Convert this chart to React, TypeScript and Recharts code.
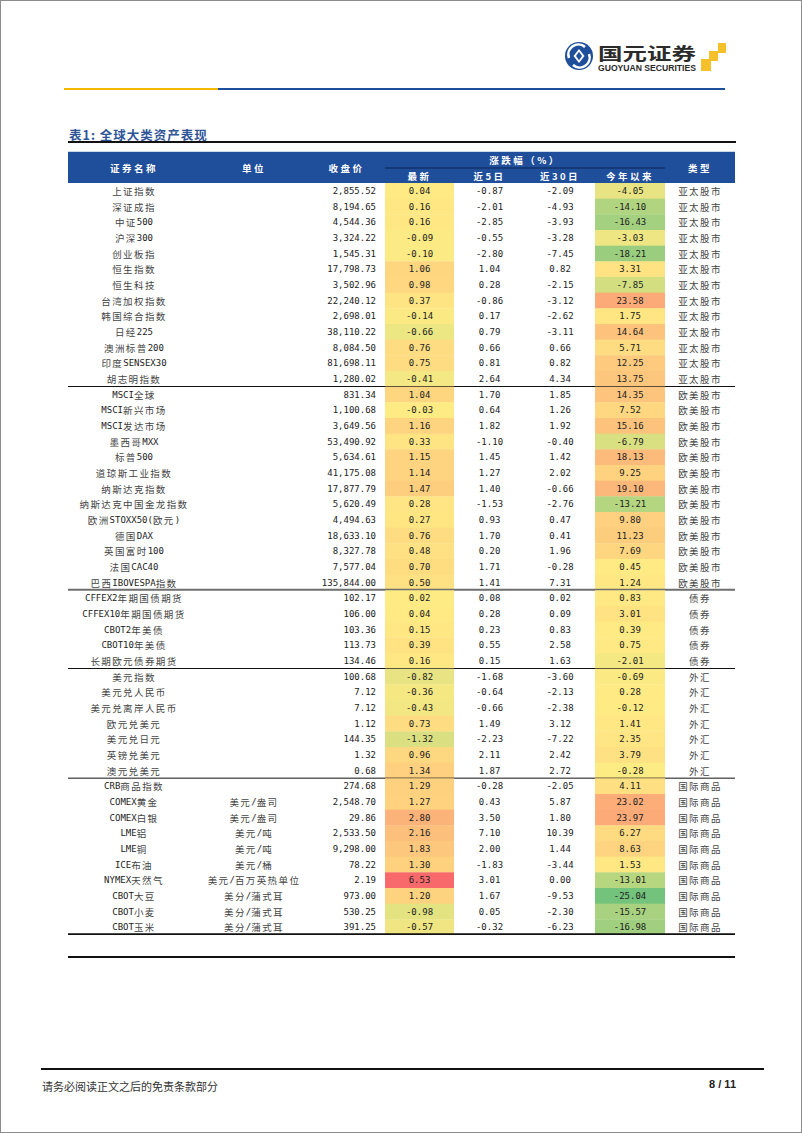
import { Bar, BarChart, XAxis, YAxis } from "recharts";

// 证券名称
const names = [
  "上证指数", "深证成指", "中证500", "沪深300", "创业板指", "恒生指数", "恒生科技", "台湾加权指数", "韩国综合指数", "日经225", "澳洲标普200", "印度SENSEX30", "胡志明指数",
  "MSCI全球", "MSCI新兴市场", "MSCI发达市场", "墨西哥MXX", "标普500", "道琼斯工业指数", "纳斯达克指数", "纳斯达克中国金龙指数", "欧洲STOXX50(欧元)", "德国DAX", "英国富时100", "法国CAC40", "巴西IBOVESPA指数",
  "CFFEX2年期国债期货", "CFFEX10年期国债期货", "CBOT2年美债", "CBOT10年美债", "长期欧元债券期货",
  "美元指数", "美元兑人民币", "美元兑离岸人民币", "欧元兑美元", "美元兑日元", "英镑兑美元", "澳元兑美元",
  "CRB商品指数", "COMEX黄金", "COMEX白银", "LME铝", "LME铜", "ICE布油", "NYMEX天然气", "CBOT大豆", "CBOT小麦", "CBOT玉米",
];

// 单位
const units = [
  "", "", "", "", "", "", "", "", "", "", "", "", "",
  "", "", "", "", "", "", "", "", "", "", "", "", "",
  "", "", "", "", "",
  "", "", "", "", "", "", "",
  "", "美元/盎司", "美元/盎司", "美元/吨", "美元/吨", "美元/桶", "美元/百万英热单位", "美分/蒲式耳", "美分/蒲式耳", "美分/蒲式耳",
];

// 收盘价
const closes = [
  2855.52, 8194.65, 4544.36, 3324.22, 1545.31, 17798.73, 3502.96, 22240.12, 2698.01, 38110.22, 8084.5, 81698.11, 1280.02,
  831.34, 1100.68, 3649.56, 53490.92, 5634.61, 41175.08, 17877.79, 5620.49, 4494.63, 18633.1, 8327.78, 7577.04, 135844.0,
  102.17, 106.0, 103.36, 113.73, 134.46,
  100.68, 7.12, 7.12, 1.12, 144.35, 1.32, 0.68,
  274.68, 2548.7, 29.86, 2533.5, 9298.0, 78.22, 2.19, 973.0, 530.25, 391.25,
];

// 涨跌幅(%): 最新 / 近5日 / 近30日 / 今年以来
const latest = [
  0.04, 0.16, 0.16, -0.09, -0.1, 1.06, 0.98, 0.37, -0.14, -0.66, 0.76, 0.75, -0.41,
  1.04, -0.03, 1.16, 0.33, 1.15, 1.14, 1.47, 0.28, 0.27, 0.76, 0.48, 0.7, 0.5,
  0.02, 0.04, 0.15, 0.39, 0.16,
  -0.82, -0.36, -0.43, 0.73, -1.32, 0.96, 1.34,
  1.29, 1.27, 2.8, 2.16, 1.83, 1.3, 6.53, 1.2, -0.98, -0.57,
];
const chg5d = [
  -0.87, -2.01, -2.85, -0.55, -2.8, 1.04, 0.28, -0.86, 0.17, 0.79, 0.66, 0.81, 2.64,
  1.7, 0.64, 1.82, -1.1, 1.45, 1.27, 1.4, -1.53, 0.93, 1.7, 0.2, 1.71, 1.41,
  0.08, 0.28, 0.23, 0.55, 0.15,
  -1.68, -0.64, -0.66, 1.49, -2.23, 2.11, 1.87,
  -0.28, 0.43, 3.5, 7.1, 2.0, -1.83, 3.01, 1.67, 0.05, -0.32,
];
const chg30d = [
  -2.09, -4.93, -3.93, -3.28, -7.45, 0.82, -2.15, -3.12, -2.62, -3.11, 0.66, 0.82, 4.34,
  1.85, 1.26, 1.92, -0.4, 1.42, 2.02, -0.66, -2.76, 0.47, 0.41, 1.96, -0.28, 7.31,
  0.02, 0.09, 0.83, 2.58, 1.63,
  -3.6, -2.13, -2.38, 3.12, -7.22, 2.42, 2.72,
  -2.05, 5.87, 1.8, 10.39, 1.44, -3.44, 0.0, -9.53, -2.3, -6.23,
];
const ytd = [
  -4.05, -14.1, -16.43, -3.03, -18.21, 3.31, -7.85, 23.58, 1.75, 14.64, 5.71, 12.25, 13.75,
  14.35, 7.52, 15.16, -6.79, 18.13, 9.25, 19.1, -13.21, 9.8, 11.23, 7.69, 0.45, 1.24,
  0.83, 3.01, 0.39, 0.75, -2.01,
  -0.69, 0.28, -0.12, 1.41, 2.35, 3.79, -0.28,
  4.11, 23.02, 23.97, 6.27, 8.63, 1.53, -13.01, -25.04, -15.57, -16.98,
];

// 类型
const groupTypes = ["亚太股市", "欧美股市", "债券", "外汇", "国际商品"];
const groupSizes = [13, 13, 5, 7, 10];

const topHeaders = ["证券名称", "单位", "收盘价", "涨跌幅（%）", "类型"];
const subHeaders = ["最新", "近5日", "近30日", "今年以来"];

const types = groupTypes.flatMap((t, i) => Array(groupSizes[i]).fill(t));
const groupEnds = groupSizes.map((_, i) => groupSizes.slice(0, i + 1).reduce((a, b) => a + b, 0) - 1);

const rows = names.map((name, i) => ({
  idx: i,
  name,
  unit: units[i],
  close: closes[i],
  latest: latest[i],
  d5: chg5d[i],
  d30: chg30d[i],
  ytd: ytd[i],
  type: types[i],
}));

// layout
const TABLE_X = 67;
const HEAD_Y = 150;
const HEAD_H = 32;
const BODY_Y = 182;
const BODY_H = 752;
const COL_W = [132, 108, 77, 69, 71, 70, 70, 70];
const TABLE_W = COL_W.reduce((a, b) => a + b, 0);
const colX = COL_W.reduce<number[]>((acc, w, i) => [...acc, acc[i] + w], [0]);

const BLUE = "#1F4E9A";
const NUM_FONT = "'DejaVu Sans Mono', 'Noto Sans CJK SC', monospace";
const CJK_FONT = "'Noto Sans CJK SC', sans-serif";

// excel-like 3 colour scale: green - yellow - red
const YELLOW = [255, 235, 132];
const GREEN = [99, 190, 123];
const RED = [248, 105, 107];
function heat(v: number, lo: number, hi: number) {
  const t = v >= 0 ? Math.min(v / hi, 1) : Math.min(v / lo, 1);
  const end = v >= 0 ? RED : GREEN;
  const c = YELLOW.map((y, k) => Math.round(y + (end[k] - y) * t));
  return `rgb(${c.join(",")})`;
}

type Col = { key: string; kind: "text" | "close" | "pct"; heat?: [number, number] };
const COLS: Col[] = [
  { key: "name", kind: "text" },
  { key: "unit", kind: "text" },
  { key: "close", kind: "close" },
  { key: "latest", kind: "pct", heat: [-5.5, 6.53] },
  { key: "d5", kind: "pct" },
  { key: "d30", kind: "pct" },
  { key: "ytd", kind: "pct", heat: [-28, 48] },
  { key: "type", kind: "text" },
];

const fmtClose = (v: number) =>
  v.toLocaleString("en-US", { minimumFractionDigits: 2, maximumFractionDigits: 2 });

const runs = (s: string) => s.match(/[\x00-\x7f]+|[^\x00-\x7f]+/g) || [];

const makeShape = (ci: number) => (p: any) => {
  const { x, y, width, height, payload } = p;
  const col = COLS[ci];
  const raw = payload[col.key];
  const cy = y + height / 2;
  const end = groupEnds.indexOf(payload.idx);
  const isLast = end === groupEnds.length - 1;
  const thick = isLast || end === 1 ? 2 : 1;
  const lineColor = end === 1 ? "#6e6e6e" : "#111";

  let content;
  if (col.kind === "pct") {
    content = (
      <text x={x + width / 2} y={cy} textAnchor="middle" dominantBaseline="central" fontFamily={NUM_FONT} fontSize={9} fill="#222">
        {raw.toFixed(2)}
      </text>
    );
  } else if (col.kind === "close") {
    content = (
      <text x={x + width - 9} y={cy} textAnchor="end" dominantBaseline="central" fontFamily={NUM_FONT} fontSize={9} fill="#222">
        {fmtClose(raw)}
      </text>
    );
  } else {
    content = (
      <text x={x + width / 2} y={cy} textAnchor="middle" dominantBaseline="central" fill="#444">
        {runs(raw).map((r, k) =>
          /^[\x00-\x7f]+$/.test(r) ? (
            <tspan key={k} fontFamily={NUM_FONT} fontSize={9} fill="#222">{r}</tspan>
          ) : (
            <tspan key={k} fontFamily={CJK_FONT} fontSize={9.5} letterSpacing={1.4}>{r}</tspan>
          )
        )}
      </text>
    );
  }

  return (
    <g>
      {col.heat && <rect x={x} y={y} width={width} height={height} fill={heat(raw, col.heat[0], col.heat[1])} />}
      {content}
      {end >= 0 && (
        <line x1={x} x2={x + width} y1={y + height - thick / 2} y2={y + height - thick / 2} stroke={lineColor} strokeWidth={thick} />
      )}
    </g>
  );
};

function Logo() {
  return (
    <svg width={170} height={36} style={{ position: "absolute", left: 561, top: 38 }}>
      <circle cx={17} cy={17} r={14} fill={BLUE} />
      <path d="M7 19 A10 10 0 0 1 23 8" stroke="#fff" strokeWidth={2.6} fill="none" />
      <path d="M27 15 A10 10 0 0 1 11 26" stroke="#fff" strokeWidth={2.6} fill="none" />
      <path d="M17 10 L22.5 17 L17 24 L11.5 17Z" fill="#fff" />
      <path d="M17 12.8 L20 17 L17 21.2 L14 17Z" fill={BLUE} />
      <text x={36} y={21} fontFamily={CJK_FONT} fontWeight={700} fontSize={17} fill="#2b2b2b" textLength={98} lengthAdjust="spacingAndGlyphs">
        国元证券
      </text>
      <text x={36} y={32} fontFamily="'Liberation Sans', Arial, sans-serif" fontWeight={700} fontSize={8.5} fill="#2b2b2b" textLength={98} lengthAdjust="spacingAndGlyphs">
        GUOYUAN SECURITIES
      </text>
      <rect x={156} y={4} width={8} height={10} fill="#F6C02B" />
      <rect x={147} y={12} width={9} height={10} fill="#F6C02B" />
      <rect x={139} y={20} width={10} height={12} fill="#F6C02B" />
    </svg>
  );
}

function Header() {
  const mid = (i: number) => (colX[i] + colX[i + 1]) / 2;
  const hStyle = { fontFamily: CJK_FONT, fontSize: 9.5, fontWeight: 700, fill: "#fff", letterSpacing: 2.5 } as const;
  return (
    <svg width={TABLE_W} height={HEAD_H} style={{ position: "absolute", left: TABLE_X, top: HEAD_Y }}>
      <rect width={TABLE_W} height={HEAD_H} fill={BLUE} />
      <line x1={0} x2={TABLE_W} y1={0.5} y2={0.5} stroke="#c9d7ef" />
      <text x={mid(0)} y={16.5} textAnchor="middle" dominantBaseline="central" {...hStyle}>{topHeaders[0]}</text>
      <text x={mid(1)} y={16.5} textAnchor="middle" dominantBaseline="central" {...hStyle}>{topHeaders[1]}</text>
      <text x={mid(2)} y={16.5} textAnchor="middle" dominantBaseline="central" {...hStyle}>{topHeaders[2]}</text>
      <text x={(colX[3] + colX[7]) / 2} y={8.5} textAnchor="middle" dominantBaseline="central" {...hStyle}>{topHeaders[3]}</text>
      <text x={mid(7)} y={16.5} textAnchor="middle" dominantBaseline="central" {...hStyle}>{topHeaders[4]}</text>
      <line x1={colX[3]} x2={colX[7]} y1={17} y2={17} stroke="#0c2552" strokeWidth={1} />
      {subHeaders.map((h, i) => (
        <text key={h} x={mid(3 + i)} y={24.5} textAnchor="middle" dominantBaseline="central" {...hStyle}>{h}</text>
      ))}
    </svg>
  );
}

export default function App() {
  return (
    <div
      style={{
        position: "absolute",
        left: 0,
        top: 0,
        width: 802,
        height: 1133,
        background: "#fff",
        border: "1px solid #8c8c8c",
        boxSizing: "border-box",
        overflow: "hidden",
      }}
    >
      <Logo />
      {/* header rule */}
      <div style={{ position: "absolute", left: 63, top: 87, width: 154, height: 2, background: "#F5B800" }} />
      <div style={{ position: "absolute", left: 217, top: 87, width: 507, height: 2, background: "#1F4E9A" }} />

      <div
        style={{
          position: "absolute",
          left: 68,
          top: 124,
          fontFamily: CJK_FONT,
          fontWeight: 700,
          fontSize: 12.5,
          letterSpacing: 1,
          color: "#2F5597",
          whiteSpace: "nowrap",
        }}
      >
        表1: 全球大类资产表现
      </div>
      <div style={{ position: "absolute", left: 67, top: 140, width: 668, height: 1.5, background: "#111" }} />

      <Header />

      <div style={{ position: "absolute", left: TABLE_X, top: BODY_Y }}>
        <BarChart
          width={TABLE_W}
          height={BODY_H}
          data={rows}
          layout="vertical"
          margin={{ top: 0, right: 0, bottom: 0, left: 0 }}
          barCategoryGap={0}
          barGap={0}
        >
          <XAxis type="number" hide domain={[0, TABLE_W]} allowDataOverflow />
          <YAxis type="category" dataKey="idx" hide />
          {COLS.map((c, ci) => (
            <Bar
              key={c.key}
              dataKey={() => COL_W[ci]}
              stackId="t"
              isAnimationActive={false}
              shape={makeShape(ci)}
            />
          ))}
        </BarChart>
      </div>

      <div style={{ position: "absolute", left: 67, top: 955, width: 667, height: 1.5, background: "#111" }} />

      {/* footer */}
      <div style={{ position: "absolute", left: 40, top: 1067, width: 723, height: 2, background: "#111" }} />
      <div
        style={{
          position: "absolute",
          left: 41,
          top: 1077,
          fontFamily: CJK_FONT,
          fontSize: 11,
          color: "#333",
          whiteSpace: "nowrap",
        }}
      >
        请务必阅读正文之后的免责条款部分
      </div>
      <div
        style={{
          position: "absolute",
          right: 802 - 737,
          top: 1077,
          fontFamily: "'Liberation Sans', Arial, sans-serif",
          fontWeight: 700,
          fontSize: 11,
          color: "#222",
          whiteSpace: "nowrap",
        }}
      >
        8 / 11
      </div>
    </div>
  );
}
